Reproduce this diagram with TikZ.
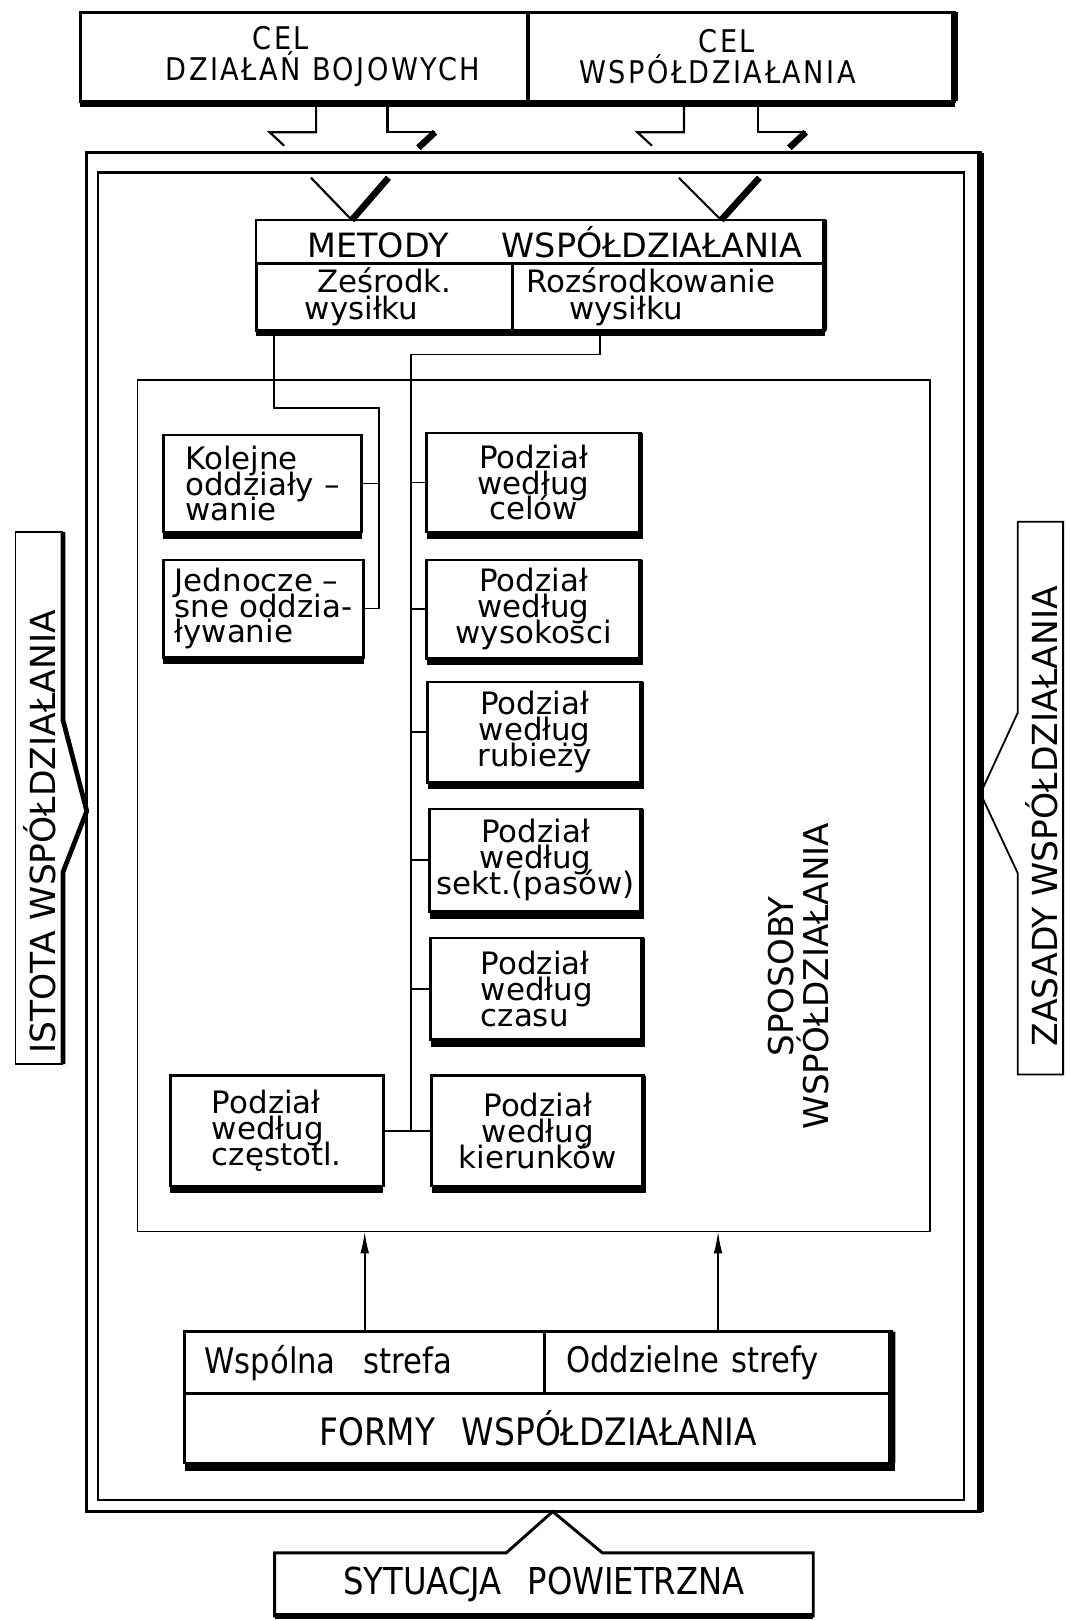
\documentclass[tikz,border=0pt]{standalone}
\usepackage{fontspec}
\setmainfont{DejaVu Sans}
\newfontfamily\condfont[FakeStretch=0.87]{DejaVu Sans}
\newfontfamily\capfont[FakeStretch=0.87,LetterSpace=8]{DejaVu Sans}
\usetikzlibrary{fit,arrows.meta}
\setlength{\lineskiplimit}{-10pt}

\tikzset{
  cell/.style={draw, line width=0.75pt, inner sep=0pt, outer sep=0pt, align=center, font=\fontsize{8.5}{7.1}\selectfont},
  leftcell/.style={cell, align=left},
  conn/.style={line width=0.45pt},
  frame/.style={draw, line width=0.45pt, inner sep=0pt, outer sep=0pt},
}

\begin{document}
\begin{tikzpicture}[x=0.01cm, y=-0.01cm]
    \useasboundingbox (0,0) rectangle (1031,1568);

    % cele
    \node[cell, line width=0.85pt, minimum width=4.33cm, minimum height=0.86cm, font=\capfont\fontsize{8.6}{8.6}\selectfont] (celbo) at (294.5,55) {CEL\hspace*{0.45cm}\\\hspace*{0.36cm}DZIAŁAŃ BOJOWYCH};
    \node[cell, line width=0.85pt, minimum width=4.13cm, minimum height=0.86cm, font=\capfont\fontsize{8.6}{8.6}\selectfont] (celws) at (717.5,55) {CEL\hspace*{0.28cm}\\WSPÓŁDZIAŁANIA\hspace*{0.46cm}};
    \draw[line width=2pt] (celws.north east) -- (celws.south east);
    \fill (celbo.south west) rectangle ([yshift=-1.6pt]celws.south east);

    % ramka
    \node[frame, line width=0.85pt, fit={(84,148) (949,1463)}] (frameout) {};
    \node[frame, line width=0.6pt, fit={(95,167) (933,1452)}] (framein) {};
    \draw[line width=1.8pt] (frameout.north east) -- (frameout.south east);

    % metody
    \node[cell, minimum width=5.5cm, minimum height=0.42cm, font=\fontsize{9.2}{9}\selectfont] (metody) at (523,234) {\hspace*{0.28cm}METODY\hspace{1.6em}WSPÓŁDZIAŁANIA};
    \node[cell, minimum width=2.48cm, minimum height=0.65cm, font=\fontsize{8.5}{7.4}\selectfont] (zes) at (372,287.5) {Ześrodk.\\wysiłku\hspace*{0.44cm}};
    \node[cell, minimum width=3.02cm, minimum height=0.65cm, font=\fontsize{8.5}{7.4}\selectfont] (roz) at (647,287.5) {Rozśrodkowanie\hspace*{0.34cm}\\wysiłku\hspace*{0.82cm}};
    \draw[line width=1.4pt] (metody.north east) -- (roz.south east);
    \fill (zes.south west) rectangle ([yshift=-1.4pt]roz.south east);

    % pioruny
    \foreach \a/\b/\n in {306/375/celbo, 662/734/celws}{
        \pgfmathsetmacro{\m}{(\a+\b)/2}
        \draw[line width=0.6pt] (\n.south -| \a,0) -- (\a,128) -- ++(-45,0) -- ++(14,13);
        \draw[line width=0.6pt] (\n.south -| \b,0) -- (\b,128) -- ++(46,0);
        \draw[line width=1.8pt] ({\b+46},128) -- ++(-16,15);
        \draw[line width=0.6pt] ({\a-5},172) -- (metody.north -| \m,0);
        \draw[line width=1.8pt] (metody.north -| \m,0) -- ({\b+1},172);
    }

    % sposoby
    \node[frame, fit={(133,368) (900,1192)}] (spo) {};
    \node[rotate=90, align=center, font=\fontsize{9.4}{9.6}\selectfont] (spolab) at (773,945) {SPOSOBY\\WSPÓŁDZIAŁANIA};

    \node[leftcell, minimum width=1.92cm, minimum height=0.94cm] (kol) at (254,468) {Kolejne\\oddziały –\\wanie};
    \node[leftcell, minimum width=1.94cm, minimum height=0.94cm] (jed) at (255,589) {Jednocze –\\sne oddzia-\\ływanie};
    \node[leftcell, minimum width=2.06cm, minimum height=1.07cm] (cze) at (268,1094.5) {Podział\\według\\częstotl.};

    \node[cell, minimum width=2.07cm, minimum height=0.96cm] (cel) at (516.5,467) {Podział\\według\\celów};
    \node[cell, minimum width=2.07cm, minimum height=0.95cm] (wys) at (516.5,589.5) {Podział\\według\\wysokosci};
    \node[cell, minimum width=2.07cm, minimum height=0.97cm] (rub) at (517.5,708.5) {Podział\\według\\rubieży};
    \node[cell, minimum width=2.05cm, minimum height=0.99cm] (sek) at (518.5,832.5) {Podział\\według\\sekt.(pasów)};
    \node[leftcell, minimum width=2.05cm, minimum height=0.98cm] (cza) at (519.5,957) {Podział\\według\\czasu};
    \node[cell, minimum width=2.05cm, minimum height=1.07cm] (kie) at (520.5,1094.5) {Podział\\według\\kierunków};

    \foreach \b in {cel,wys,rub,sek,cza,kie}{
        \draw[line width=1.4pt] (\b.north east) -- (\b.south east);
        \fill (\b.south west) rectangle ([xshift=0.7pt,yshift=-2pt]\b.south east);
    }
    \foreach \b in {kol,jed,cze}
        \fill (\b.south west) rectangle ([yshift=-2pt]\b.south east);

    % polaczenia
    \coordinate (busL) at (367,395);
    \coordinate (busR) at (398,343);
    \draw[conn] ([xshift=0.17cm]zes.south west) |- (busL) |- (jed.east);
    \draw[conn] (kol.east) -- (kol.east -| busL);
    \draw[conn] ([xshift=0.85cm]roz.south west) |- (busR) -- (busR |- kie.west);
    \foreach \b in {cel,wys,rub,sek,cza}
        \draw[conn] (\b.west) -- (\b.west -| busR);
    \draw[conn] (cze.east) -- (kie.west);

    % formy
    \node[cell, minimum width=3.48cm, minimum height=0.6cm, text width=3.1cm, align=left, font=\condfont\fontsize{9.7}{10}\selectfont] (wsp) at (353,1319) {Wspólna\hspace{0.8em}strefa};
    \node[cell, minimum width=3.36cm, minimum height=0.6cm, text width=2.94cm, align=left, font=\condfont\fontsize{9.7}{10}\selectfont] (odd) at (695,1319) {Oddzielne strefy};
    \node[cell, minimum width=6.84cm, minimum height=0.67cm, font=\condfont\fontsize{10.4}{10}\selectfont] (formy) at (521,1382.5) {FORMY\hspace{0.7em}WSPÓŁDZIAŁANIA};
    \draw[line width=2pt] (odd.north east) -- (formy.south east);
    \fill (formy.south west) rectangle ([xshift=1pt,yshift=-2.2pt]formy.south east);

    \draw[conn, -{Latex[length=6pt,width=2.4pt]}] (wsp.north) -- (wsp.north |- spo.south);
    \draw[conn, -{Latex[length=6pt,width=2.4pt]}] (odd.north) -- (odd.north |- spo.south);

    % istota / zasady
    \node[rotate=90, font=\fontsize{9.5}{10}\selectfont] (istota) at (38,805) {ISTOTA WSPÓŁDZIAŁANIA};
    \draw[line width=0.5pt] (61,515) -- (15,515) -- (15,1030) -- (61,1030);
    \draw[line width=1.3pt] (61,515) -- (61,697) -- (frameout.west |- 0,785) -- (61,844) -- (61,1030);

    \node[rotate=90, font=\fontsize{9.5}{10}\selectfont] (zasady) at (1008,790) {ZASADY WSPÓŁDZIAŁANIA};
    \draw[line width=0.5pt] (985,690) -- (985,505) -- (1029,505) -- (1029,1040) -- (985,1040) -- (985,845) -- (frameout.east |- 0,768) -- cycle;

    % sytuacja
    \node[inner sep=0pt, outer sep=0pt, minimum width=5.21cm, minimum height=0.61cm, font=\condfont\fontsize{10.2}{10}\selectfont] (sit) at (526.5,1533.5) {SYTUACJA\hspace{0.7em}POWIETRZNA};
    \draw[line width=0.8pt] (sit.north west) -- (490,1503) -- (frameout.south -| 535,0) -- (583,1503) -- (sit.north east) -- (sit.south east) -- (sit.south west) -- cycle;
    \draw[line width=1.5pt] (sit.south west) -- (sit.south east);
\end{tikzpicture}
\end{document}
